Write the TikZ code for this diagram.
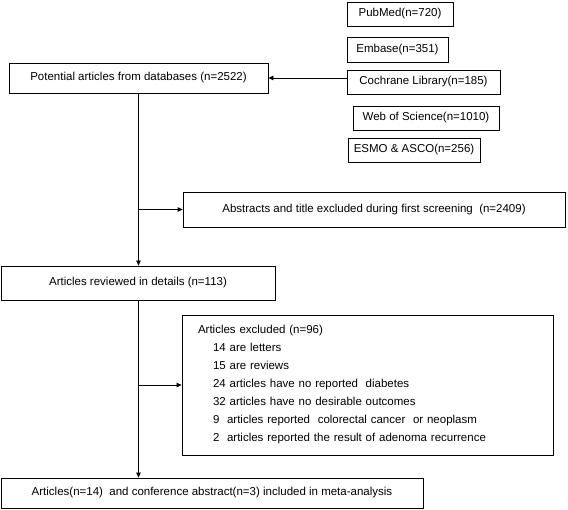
\documentclass[tikz,border=0pt]{standalone}
\usepackage{fontspec}
\setmainfont{Liberation Sans}
\usetikzlibrary{arrows.meta}
\begin{document}
\begin{tikzpicture}[x=1pt,y=-1pt,
  box/.style={draw, line width=0.8pt, inner sep=0pt, font=\fontsize{11.5}{14}\selectfont},
  conn/.style={line width=0.8pt},
  arr/.style={conn, -{Triangle[length=5pt,width=4.5pt]}}]
\useasboundingbox (0,0) rectangle (568,510);
\node[box, minimum width=106, minimum height=24] (pubmed) at (400,14) {PubMed(n=720)};
\node[box, minimum width=101, minimum height=25] (embase) at (397.5,49.5) {Embase(n=351)};
\node[box, minimum width=153, minimum height=24] (cochrane) at (423.5,82) {Cochrane Library(n=185)};
\node[box, minimum width=146, minimum height=24] (wos) at (426,118) {Web of Science(n=1010)};
\node[box, minimum width=132, minimum height=24] (esmo) at (414,150) {ESMO \& ASCO(n=256)};
\node[box, minimum width=259, minimum height=30] (potential) at (138.5,78) {Potential articles from databases (n=2522)};
\node[box, minimum width=382, minimum height=35] (abstracts) at (374,209.5) {Abstracts and title excluded during first screening\ \ (n=2409)};
\node[box, minimum width=274, minimum height=34] (reviewed) at (138,283) {Articles reviewed in details (n=113)};
\node[box, minimum width=371, minimum height=140, align=left, text width=339, inner xsep=16pt, font=\fontsize{11.5}{18}\selectfont] (excluded) at (367.5,385) {Articles excluded (n=96)\\
\hspace*{15pt}14 are letters\\
\hspace*{15pt}15 are reviews\\
\hspace*{15pt}24 articles have no reported\ \ diabetes\\
\hspace*{15pt}32 articles have no desirable outcomes\\
\hspace*{15pt}9\ \ articles reported\ \ colorectal cancer\ \ or neoplasm\\
\hspace*{15pt}2\ \ articles reported the result of adenoma recurrence};
\node[box, minimum width=422, minimum height=30] (final) at (212,493) {Articles(n=14)\ \ and conference abstract(n=3) included in meta-analysis};
\coordinate (t1) at (potential.south);
\coordinate (e1) at (t1 |- reviewed.north);
\coordinate (t2) at (t1 |- reviewed.south);
\coordinate (e2) at (t1 |- final.north);
\coordinate (b1) at (t1 |- abstracts.west);
\coordinate (b2) at (t1 |- excluded.west);
\draw[arr] (cochrane.west |- potential.east) -- (potential.east);
\draw[arr] (t1) -- (e1);
\draw[arr] (b1) -- (abstracts.west);
\draw[arr] (t2) -- (e2);
\draw[arr] (b2) -- (excluded.west);
\end{tikzpicture}
\end{document}
